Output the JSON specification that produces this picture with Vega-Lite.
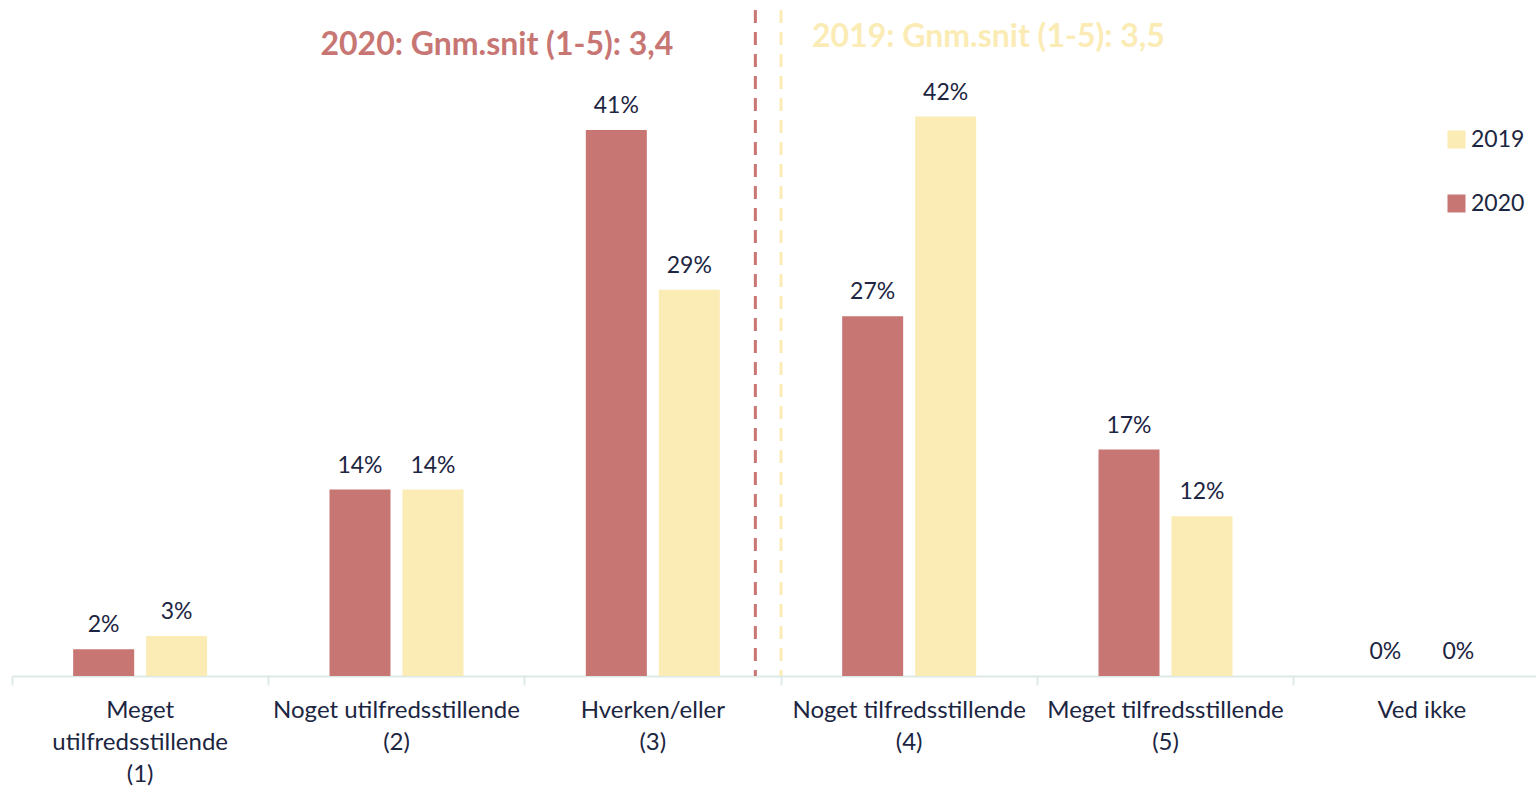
{
  "$schema": "https://vega.github.io/schema/vega-lite/v6.json",
  "width": 1524,
  "height": 666,
  "autosize": {"type": "none"},
  "padding": {"left": 12, "top": 10, "right": 0, "bottom": 111},
  "background": "white",
  "config": {"view": {"stroke": null}, "font": "Lato"},
  "datasets": {
    "bars": [
      {"cat": "Meget|utilfredsstillende|(1)", "year": "2020", "value": 0.02},
      {"cat": "Meget|utilfredsstillende|(1)", "year": "2019", "value": 0.03},
      {"cat": "Noget utilfredsstillende|(2)", "year": "2020", "value": 0.14},
      {"cat": "Noget utilfredsstillende|(2)", "year": "2019", "value": 0.14},
      {"cat": "Hverken/eller|(3)", "year": "2020", "value": 0.41},
      {"cat": "Hverken/eller|(3)", "year": "2019", "value": 0.29},
      {"cat": "Noget tilfredsstillende|(4)", "year": "2020", "value": 0.27},
      {"cat": "Noget tilfredsstillende|(4)", "year": "2019", "value": 0.42},
      {"cat": "Meget tilfredsstillende|(5)", "year": "2020", "value": 0.17},
      {"cat": "Meget tilfredsstillende|(5)", "year": "2019", "value": 0.12},
      {"cat": "Ved ikke", "year": "2020", "value": 0},
      {"cat": "Ved ikke", "year": "2019", "value": 0}
    ],
    "means": [
      {"year": "2020", "mean": 3.4, "title": "2020: Gnm.snit (1-5): 3,4", "ty": 0.474},
      {"year": "2019", "mean": 3.5, "title": "2019: Gnm.snit (1-5): 3,5", "ty": 0.48}
    ]
  },
  "layer": [
    {
      "data": {"name": "bars"},
      "mark": {"type": "bar"},
      "encoding": {
        "x": {
          "field": "cat", "type": "nominal",
          "sort": ["Meget|utilfredsstillende|(1)", "Noget utilfredsstillende|(2)", "Hverken/eller|(3)", "Noget tilfredsstillende|(4)", "Meget tilfredsstillende|(5)", "Ved ikke"],
          "scale": {"range": [0, 1538], "paddingInner": 0, "paddingOuter": 0},
          "axis": {
            "title": null,
            "bandPosition": 0,
            "labelExpr": "split(datum.label, '|')",
            "labelAngle": 0,
            "labelFontSize": 24,
            "labelColor": "#1C2541",
            "labelLineHeight": 32,
            "labelBaseline": "top",
            "labelPadding": 13,
            "labelLimit": 400,
            "labelOverlap": false,
            "labelBound": false,
            "domainColor": "#DDE9E6",
            "domainWidth": 2,
            "tickColor": "#DDE9E6",
            "tickWidth": 2,
            "tickSize": 9
          }
        },
        "xOffset": {"field": "year", "type": "nominal", "sort": ["2020", "2019"], "scale": {"paddingInner": 0.1644, "paddingOuter": 0.838}},
        "y": {"field": "value", "type": "quantitative", "scale": {"domain": [0, 0.5], "nice": false}, "axis": null},
        "color": {
          "field": "year", "type": "nominal",
          "scale": {"domain": ["2020", "2019"], "range": ["#C87674", "#FBEBB5"]},
          "legend": {
            "title": null,
            "values": ["2019", "2020"],
            "orient": "none",
            "legendX": 1433,
            "legendY": 118,
            "symbolType": "square",
            "symbolSize": 324,
            "symbolStrokeWidth": 0,
            "labelFontSize": 23,
            "labelColor": "#1C2541",
            "labelOffset": 3,
            "rowPadding": 40
          }
        }
      }
    },
    {
      "data": {"name": "bars"},
      "mark": {"type": "text", "fontSize": 23, "color": "#1C2541", "baseline": "alphabetic", "dy": -17},
      "encoding": {
        "x": {
          "field": "cat", "type": "nominal",
          "sort": ["Meget|utilfredsstillende|(1)", "Noget utilfredsstillende|(2)", "Hverken/eller|(3)", "Noget tilfredsstillende|(4)", "Meget tilfredsstillende|(5)", "Ved ikke"],
          "scale": {"range": [0, 1538], "paddingInner": 0, "paddingOuter": 0},
          "axis": null
        },
        "xOffset": {"field": "year", "type": "nominal", "sort": ["2020", "2019"]},
        "y": {"field": "value", "type": "quantitative"},
        "text": {"field": "value", "type": "quantitative", "format": ".0%"},
        "color": {"value": "#1C2541"}
      }
    },
    {
      "data": {"name": "means"},
      "mark": {"type": "rule", "strokeWidth": 3, "strokeDash": [13, 9]},
      "encoding": {
        "x": {"field": "mean", "type": "quantitative", "scale": {"domain": [0.5, 6.5], "range": [0, 1538], "zero": false, "nice": false}, "axis": null},
        "stroke": {"condition": {"test": "datum.year === '2020'", "value": "#C87674"}, "value": "#FBEBB5"}
      }
    },
    {
      "data": {"name": "means"},
      "transform": [{"filter": "datum.year === '2020'"}],
      "mark": {"type": "text", "fontSize": 32, "fontWeight": "bold", "color": "#C87674", "align": "right", "baseline": "middle", "dx": -82},
      "encoding": {
        "x": {"field": "mean", "type": "quantitative", "scale": {"domain": [0.5, 6.5], "range": [0, 1538], "zero": false, "nice": false}, "axis": null},
        "y": {"field": "ty", "type": "quantitative"},
        "text": {"field": "title"}
      }
    },
    {
      "data": {"name": "means"},
      "transform": [{"filter": "datum.year === '2019'"}],
      "mark": {"type": "text", "fontSize": 32, "fontWeight": "bold", "color": "#FBEBB5", "align": "left", "baseline": "middle", "dx": 31},
      "encoding": {
        "x": {"field": "mean", "type": "quantitative", "scale": {"domain": [0.5, 6.5], "range": [0, 1538], "zero": false, "nice": false}, "axis": null},
        "y": {"field": "ty", "type": "quantitative"},
        "text": {"field": "title"}
      }
    }
  ],
  "resolve": {"scale": {"x": "independent"}}
}
